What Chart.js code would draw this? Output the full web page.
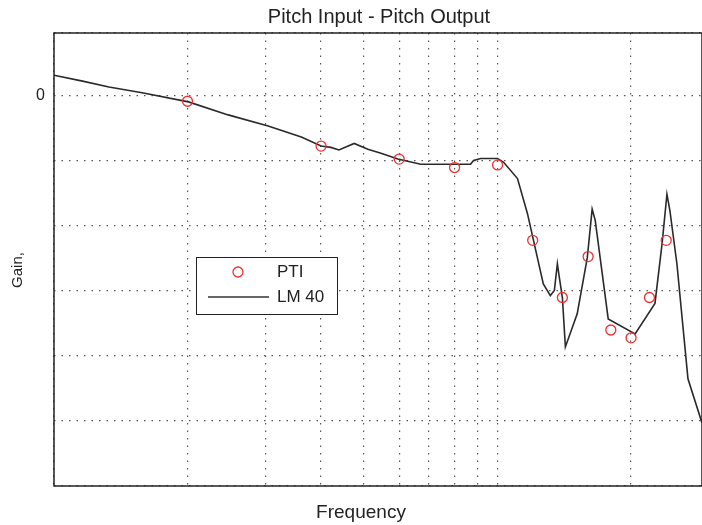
<!DOCTYPE html>
<html>
<head>
<meta charset="utf-8">
<script src="https://cdn.jsdelivr.net/npm/chart.js@4.4.0/dist/chart.umd.min.js"></script>
<style>
html, body { margin: 0; padding: 0; background: #fff; }
#wrap { width: 702px; height: 525px; }
</style>
</head>
<body>
<div id="wrap"><canvas id="myChart" width="702" height="525"></canvas></div>
<script>
// LM 40 curve (frequency, gain)
var lmFreq = [1.0, 1.16, 1.33, 1.58, 2.01, 2.47, 3.04, 3.61, 4.0, 4.21, 4.39, 4.75, 5.10, 5.46, 5.96,
    6.71, 8.69, 8.83, 9.16, 10.0, 10.32, 11.09, 11.68, 12.05, 12.68, 13.15, 13.43, 13.64, 13.78, 14.0,
    14.22, 15.12, 15.93, 16.34, 16.60, 17.76, 20.42, 22.64, 23.49, 24.09, 24.46, 25.37, 26.87, 28.9];
var lmGain = [3.2, 2.3, 1.4, 0.5, -0.9, -2.9, -4.6, -6.3, -7.7, -7.9, -8.3, -7.3, -8.2, -8.8, -9.7,
    -10.5, -10.5, -9.9, -9.6, -9.6, -10.2, -12.7, -18.1, -22.2, -28.9, -30.7, -29.9, -25.8, -27.9, -31.0,
    -38.6, -33.5, -24.9, -17.4, -19.1, -34.3, -36.6, -31.9, -22.7, -15.1, -17.6, -25.8, -43.5, -50.3];

// PTI measured points
var ptiFreq = [2, 4, 6, 8, 10, 12, 14, 16, 18, 20, 22, 24];
var ptiGain = [-0.8, -7.7, -9.7, -11.0, -10.6, -22.2, -31.0, -24.7, -36.0, -37.2, -31.0, -22.2];

// grid positions
var xGrid = [1, 2, 3, 4, 5, 6, 7, 8, 9, 10, 20];
var yLabels = { '0': '0' };

function toPoints(xs, ys) {
    return xs.map(function (x, i) { return { x: x, y: ys[i] }; });
}

var FONT = '"Liberation Sans", Arial, sans-serif';
Chart.defaults.font.family = FONT;
Chart.defaults.font.size = 16;
Chart.defaults.color = '#222';

// textos, marco y leyenda
var decorations = {
    id: 'decorations',
    afterDraw: function (chart) {
        var ctx = chart.ctx;
        var a = chart.chartArea;
        ctx.save();
        ctx.strokeStyle = '#222';
        ctx.lineWidth = 1.5;
        ctx.strokeRect(a.left, a.top, a.right - a.left, a.bottom - a.top);

        ctx.fillStyle = '#222';
        ctx.textAlign = 'center';
        ctx.textBaseline = 'alphabetic';
        ctx.font = '20px ' + FONT;
        ctx.fillText('Pitch Input - Pitch Output', 379, 23);
        ctx.font = '19px ' + FONT;
        ctx.fillText('Frequency', 361, 518);
        ctx.save();
        ctx.translate(22, 270);
        ctx.rotate(-Math.PI / 2);
        ctx.font = '15px ' + FONT;
        ctx.fillText('Gain,', 0, 0);
        ctx.restore();

        // leyenda
        ctx.fillStyle = '#fff';
        ctx.fillRect(196, 257, 141, 57);
        ctx.strokeStyle = '#222';
        ctx.lineWidth = 1;
        ctx.strokeRect(196.5, 257.5, 141, 57);
        ctx.strokeStyle = '#f03030';
        ctx.lineWidth = 1.3;
        ctx.beginPath();
        ctx.arc(238, 272, 5, 0, Math.PI * 2);
        ctx.stroke();
        ctx.strokeStyle = '#333';
        ctx.lineWidth = 1.5;
        ctx.beginPath();
        ctx.moveTo(208, 297);
        ctx.lineTo(269, 297);
        ctx.stroke();
        ctx.fillStyle = '#222';
        ctx.textAlign = 'left';
        ctx.textBaseline = 'middle';
        ctx.font = '17px ' + FONT;
        ctx.fillText(chart.data.datasets[0].label, 277, 272);
        ctx.fillText(chart.data.datasets[1].label, 277, 297);
        ctx.restore();
    }
};

var ctx = document.getElementById('myChart').getContext('2d');
var myChart = new Chart(ctx, {
    type: 'line',
    data: {
        datasets: [{
            label: 'PTI',
            data: toPoints(ptiFreq, ptiGain),
            showLine: false,
            pointRadius: 5,
            pointBorderWidth: 1.3,
            pointBorderColor: '#f03030',
            pointBackgroundColor: 'rgba(0,0,0,0)'
        }, {
            label: 'LM 40',
            data: toPoints(lmFreq, lmGain),
            borderColor: '#2a2a2a',
            borderWidth: 1.6,
            pointRadius: 0,
            tension: 0
        }]
    },
    options: {
        responsive: false,
        animation: false,
        layout: { autoPadding: false, padding: { top: 33, right: 0, bottom: 0, left: 0 } },
        plugins: {
            legend: { display: false },
            tooltip: { enabled: false }
        },
        scales: {
            x: {
                type: 'logarithmic',
                min: 1,
                max: 28.9,
                afterBuildTicks: function (scale) {
                    scale.ticks = xGrid.map(function (v) { return { value: v }; });
                },
                afterFit: function (scale) { scale.height = 39; },
                ticks: { display: false },
                grid: { color: '#555', lineWidth: 1.2, drawTicks: false },
                border: { display: false, dash: [1.5, 6] }
            },
            y: {
                min: -60,
                max: 9.7,
                afterFit: function (scale) { scale.width = 54; },
                ticks: {
                    stepSize: 10,
                    padding: 9,
                    callback: function (v) { return yLabels[String(v)] || ''; }
                },
                grid: { color: '#555', lineWidth: 1.2, drawTicks: false },
                border: { display: false, dash: [1.5, 6] }
            }
        }
    },
    plugins: [decorations]
});
</script>
</body>
</html>
